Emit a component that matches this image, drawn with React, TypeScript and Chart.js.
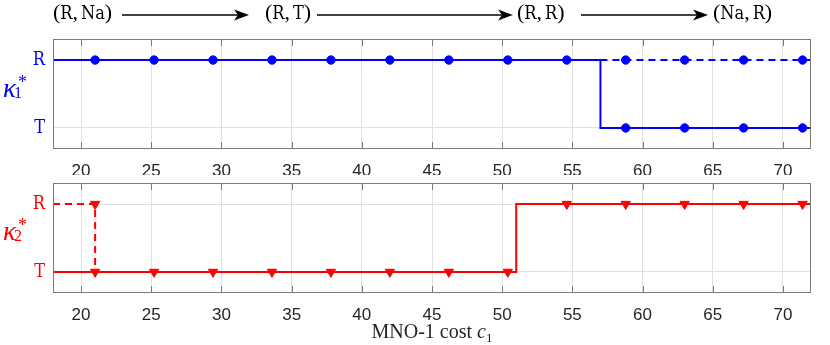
import React, { useEffect, useRef } from "react";
import { Chart, registerables } from "chart.js";

Chart.register(...registerables);

// ---------- data ----------
const xTicks = [20, 25, 30, 35, 40, 45, 50, 55, 60, 65, 70];
const xMin = 18;
const xMax = 72;
const yLevels = [0, 1];
const yLabels = ["T", "R"];

// kappa_1^* (MNO-1 strategy)
const k1SolidX = [18, 57, 57, 72];
const k1SolidY = [1, 1, 0, 0];
const k1DashX = [57, 72];
const k1DashY = [1, 1];
const k1MarkX = [21, 25.2, 29.4, 33.6, 37.8, 42, 46.2, 50.4, 54.6, 58.8, 63, 67.2, 71.4, 58.8, 63, 67.2, 71.4];
const k1MarkY = [1, 1, 1, 1, 1, 1, 1, 1, 1, 1, 1, 1, 1, 0, 0, 0, 0];

// kappa_2^* (MNO-2 strategy)
const k2SolidX = [18, 51, 51, 72];
const k2SolidY = [0, 0, 1, 1];
const k2DashX = [18, 21, 21];
const k2DashY = [1, 1, 0];
const k2MarkX = [21, 21, 25.2, 29.4, 33.6, 37.8, 42, 46.2, 50.4, 54.6, 58.8, 63, 67.2, 71.4];
const k2MarkY = [1, 0, 0, 0, 0, 0, 0, 0, 0, 1, 1, 1, 1, 1];

// top annotations
const stateLabels: [string, string][] = [
  ["R", "Na"],
  ["R", "T"],
  ["R", "R"],
  ["Na", "R"],
];

const BLUE = "#0000ff";
const RED = "#ff0000";
const TT = "'DejaVu Serif Condensed', 'DejaVu Serif', serif";
const SERIF = "'Liberation Serif', 'Times New Roman', 'DejaVu Serif', serif";

const zip = (xs: number[], ys: number[]) => xs.map((x, i) => ({ x, y: ys[i] }));

const framePlugin = {
  id: "frame",
  afterDraw(chart: any) {
    const { ctx, chartArea: a, scales } = chart;
    ctx.save();
    ctx.strokeStyle = "#7a7a7a";
    ctx.lineWidth = 1;
    const l = Math.round(a.left), r = Math.round(a.right), t = Math.round(a.top), b = Math.round(a.bottom);
    ctx.strokeRect(l + 0.5, t + 0.5, r - l - 1, b - t - 1);
    ctx.beginPath();
    xTicks.forEach((v) => {
      const px = Math.round(scales.x.getPixelForValue(v)) + 0.5;
      ctx.moveTo(px, t);
      ctx.lineTo(px, t + 7);
      ctx.moveTo(px, b);
      ctx.lineTo(px, b - 7);
    });
    ctx.stroke();
    ctx.restore();
  },
};

function makeConfig(opts: {
  color: string;
  solidX: number[];
  solidY: number[];
  dashX: number[];
  dashY: number[];
  markX: number[];
  markY: number[];
  marker: "circle" | "triangle";
  padTop: number;
  xHeight: number;
}) {
  const { color } = opts;
  const isTri = opts.marker === "triangle";
  return {
    type: "line" as const,
    data: {
      datasets: [
        {
          data: zip(opts.solidX, opts.solidY),
          borderColor: color,
          borderWidth: 2,
          pointRadius: 0,
          fill: false,
          tension: 0,
        },
        {
          data: zip(opts.dashX, opts.dashY),
          borderColor: color,
          borderWidth: 2,
          borderDash: [7, 5],
          pointRadius: 0,
          fill: false,
          tension: 0,
        },
        {
          data: zip(opts.markX, opts.markY),
          showLine: false,
          pointStyle: opts.marker,
          rotation: isTri ? 180 : 0,
          pointRadius: isTri ? 5.4 : 4.2,
          pointBackgroundColor: color,
          pointBorderColor: color,
          pointBorderWidth: 1,
        },
      ],
    },
    options: {
      responsive: false,
      animation: false as const,
      events: [],
      layout: { padding: { top: opts.padTop, right: 19, left: 0, bottom: 0 } },
      plugins: { legend: { display: false }, tooltip: { enabled: false } },
      scales: {
        x: {
          type: "linear" as const,
          min: xMin,
          max: xMax,
          afterBuildTicks: (s: any) => {
            s.ticks = xTicks.map((v) => ({ value: v }));
          },
          afterFit: (s: any) => {
            s.height = opts.xHeight;
          },
          grid: { color: "#e0e0e0", lineWidth: 1, drawTicks: false },
          border: { display: false },
          ticks: {
            padding: 12,
            color: "#262626",
            font: { family: "'Liberation Sans', Arial, sans-serif", size: 17 },
            maxRotation: 0,
          },
        },
        y: {
          type: "linear" as const,
          min: -0.31,
          max: 1.31,
          afterBuildTicks: (s: any) => {
            s.ticks = yLevels.map((v) => ({ value: v }));
          },
          afterFit: (s: any) => {
            s.width = 53;
          },
          grid: { color: "#e0e0e0", lineWidth: 1, drawTicks: false },
          border: { display: false },
          ticks: {
            padding: 8,
            color,
            font: { family: TT, size: 18 },
            callback: (v: any) => yLabels[yLevels.indexOf(Number(v))] ?? "",
          },
        },
      },
    },
    plugins: [framePlugin],
  };
}

function Arrow({ x1, x2, y }: { x1: number; x2: number; y: number }) {
  return (
    <g>
      <line x1={x1} y1={y} x2={x2 - 10} y2={y} stroke="#000" strokeWidth={1.6} />
      <polygon points={`${x2},${y} ${x2 - 15},${y - 5.5} ${x2 - 11},${y} ${x2 - 15},${y + 5.5}`} fill="#000" />
    </g>
  );
}

function StatePair({ left, a, b }: { left: number; a: string; b: string }) {
  return (
    <div
      style={{
        position: "absolute",
        left,
        top: 1,
        fontSize: 22,
        lineHeight: "22px",
        whiteSpace: "nowrap",
        fontFamily: SERIF,
        color: "#000",
      }}
    >
      <span>(</span>
      <span style={{ fontFamily: TT, fontSize: 18 }}>{a}</span>
      <span>,</span>
      <span style={{ fontFamily: TT, fontSize: 18, marginLeft: 3 }}>{b}</span>
      <span>)</span>
    </div>
  );
}

function Kappa({ top, color, sub }: { top: number; color: string; sub: string }) {
  return (
    <div style={{ position: "absolute", left: 0, top, width: 40, height: 40, color, fontFamily: SERIF }}>
      <span style={{ position: "absolute", left: 3, top: 0, fontSize: 27, lineHeight: 1, fontStyle: "italic" }}>κ</span>
      <span style={{ position: "absolute", left: 18, top: -2, fontSize: 18, lineHeight: 1 }}>*</span>
      <span style={{ position: "absolute", left: 14, top: 10, fontSize: 16, lineHeight: 1 }}>{sub}</span>
    </div>
  );
}

export default function App() {
  const topRef = useRef<HTMLCanvasElement | null>(null);
  const botRef = useRef<HTMLCanvasElement | null>(null);

  useEffect(() => {
    const c1 = new Chart(
      topRef.current as HTMLCanvasElement,
      makeConfig({
        color: BLUE,
        solidX: k1SolidX,
        solidY: k1SolidY,
        dashX: k1DashX,
        dashY: k1DashY,
        markX: k1MarkX,
        markY: k1MarkY,
        marker: "circle",
        padTop: 39,
        xHeight: 26,
      }) as any
    );
    const c2 = new Chart(
      botRef.current as HTMLCanvasElement,
      makeConfig({
        color: RED,
        solidX: k2SolidX,
        solidY: k2SolidY,
        dashX: k2DashX,
        dashY: k2DashY,
        markX: k2MarkX,
        markY: k2MarkY,
        marker: "triangle",
        padTop: 38,
        xHeight: 52,
      }) as any
    );
    return () => {
      c1.destroy();
      c2.destroy();
    };
  }, []);

  const pairLefts = [53, 265, 517, 713];

  return (
    <div
      style={{
        position: "absolute",
        left: 0,
        top: 0,
        width: 830,
        height: 345,
        background: "#fff",
        overflow: "hidden",
      }}
    >
      <canvas ref={topRef} width={830} height={175} style={{ position: "absolute", left: 0, top: 0 }} />
      <canvas ref={botRef} width={830} height={200} style={{ position: "absolute", left: 0, top: 145 }} />

      <svg width={830} height={32} style={{ position: "absolute", left: 0, top: 0 }}>
        <Arrow x1={122} x2={249} y={15} />
        <Arrow x1={317} x2={513} y={15} />
        <Arrow x1={581} x2={708} y={15} />
      </svg>
      {stateLabels.map(([a, b], i) => (
        <StatePair key={i} left={pairLefts[i]} a={a} b={b} />
      ))}

      <Kappa top={75} color={BLUE} sub="1" />
      <Kappa top={218} color={RED} sub="2" />

      <div
        style={{
          position: "absolute",
          left: 432,
          top: 321,
          transform: "translateX(-50%)",
          fontFamily: SERIF,
          fontSize: 20,
          lineHeight: 1,
          whiteSpace: "nowrap",
          color: "#262626",
        }}
      >
        MNO-1 cost <i>c</i>
        <sub style={{ fontSize: 13, verticalAlign: "-4px" }}>1</sub>
      </div>
    </div>
  );
}
